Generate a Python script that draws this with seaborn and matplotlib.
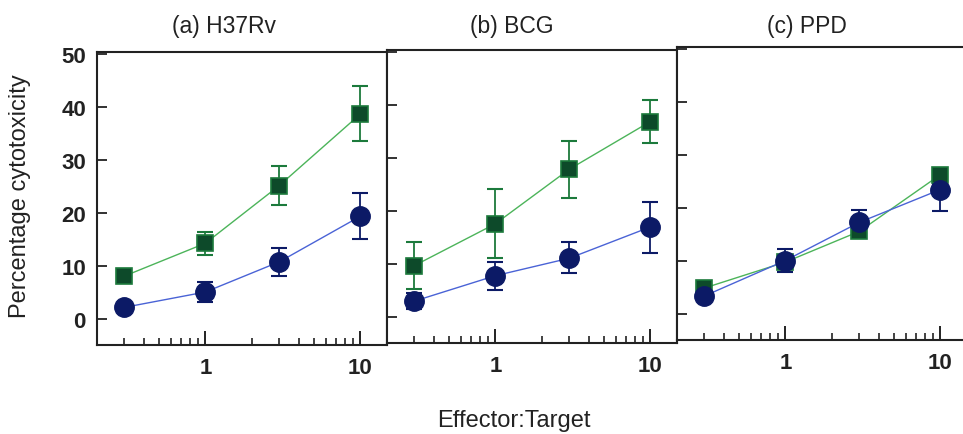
import matplotlib
matplotlib.use("Agg")
import matplotlib.pyplot as plt
from matplotlib.ticker import FixedLocator, NullFormatter, FixedFormatter
import numpy as np
import pandas as pd
import seaborn as sns

# Effector:Target ratios
ratios = [0.3, 1, 3, 10]

panel_titles = ["(a) H37Rv", "(b) BCG", "(c) PPD"]

# Square series (mean, lower/upper error-bar ends)
sq_mean = [[8.0, 14.2, 25.1, 38.6],
           [9.6, 17.5, 27.8, 36.8],
           [4.8, 9.7, 15.5, 26.2]]
sq_lo = [[7.9, 11.9, 21.5, 33.5],
         [5.2, 11.0, 22.4, 32.8],
         [4.0, 8.9, 14.6, 25.4]]
sq_hi = [[8.1, 16.4, 28.7, 43.9],
         [14.0, 24.0, 33.2, 40.8],
         [5.6, 10.5, 16.4, 27.0]]

# Circle series
ci_mean = [[2.1, 5.0, 10.7, 19.3],
           [2.9, 7.7, 11.0, 16.9],
           [3.3, 10.0, 17.2, 23.4]]
ci_lo = [[1.9, 3.2, 8.0, 15.0],
         [1.4, 5.0, 8.2, 12.0],
         [2.8, 7.9, 15.8, 19.3]]
ci_hi = [[2.3, 6.9, 13.4, 23.6],
         [4.4, 10.3, 14.0, 21.6],
         [3.8, 12.2, 19.6, 24.4]]

x_major = [1, 10]
x_major_labels = ["1", "10"]
x_minor = [0.3, 0.4, 0.5, 0.6, 0.7, 0.8, 0.9, 2, 3, 4, 5, 6, 7, 8, 9]
y_ticks = [0, 10, 20, 30, 40, 50]

sns.set_theme(style="ticks")
plt.rcParams["font.family"] = ["Liberation Sans", "DejaVu Sans"]

SQ_FACE = "#0d4a2a"
SQ_EDGE = "#1c7a3c"
SQ_LINE = "#4cb45a"
CI_FACE = "#0c1a66"
CI_LINE = "#4a63d6"
INK = "#222222"

W, H = 963, 435
fig = plt.figure(figsize=(W / 100, H / 100), dpi=100)

# panel frames in pixels: (left, top, bottom)
frames = [(97, 53, 346), (387, 51, 344), (677, 48, 341)]
pw = 290
title_x = [224, 512, 807]

for i, (left, top, bottom) in enumerate(frames):
    ax = fig.add_axes([left / W, 1 - bottom / H, pw / W, (bottom - top) / H])
    ax.set_facecolor("white")

    df_sq = pd.DataFrame({"ratio": ratios, "value": sq_mean[i]})
    df_ci = pd.DataFrame({"ratio": ratios, "value": ci_mean[i]})

    # error bars sit underneath the markers
    sq_err = [np.array(sq_mean[i]) - np.array(sq_lo[i]),
              np.array(sq_hi[i]) - np.array(sq_mean[i])]
    ci_err = [np.array(ci_mean[i]) - np.array(ci_lo[i]),
              np.array(ci_hi[i]) - np.array(ci_mean[i])]
    ax.errorbar(ratios, sq_mean[i], yerr=sq_err, fmt="none", ecolor=SQ_EDGE,
                elinewidth=1.3, capsize=6, capthick=1.5, zorder=2)
    ax.errorbar(ratios, ci_mean[i], yerr=ci_err, fmt="none", ecolor=CI_FACE,
                elinewidth=1.3, capsize=6, capthick=1.5, zorder=2)

    sns.lineplot(data=df_sq, x="ratio", y="value", ax=ax, color=SQ_LINE,
                 linewidth=1.0, marker="s", markersize=11.5,
                 markerfacecolor=SQ_FACE, markeredgecolor=SQ_EDGE,
                 markeredgewidth=1.2, zorder=3)
    sns.lineplot(data=df_ci, x="ratio", y="value", ax=ax, color=CI_LINE,
                 linewidth=1.0, marker="o", markersize=14,
                 markerfacecolor=CI_FACE, markeredgecolor=CI_FACE,
                 markeredgewidth=1.0, zorder=4)

    ax.set_xscale("log")
    ax.set_xlim(0.2, 14.85)
    ax.set_ylim(-5, 50.3)
    ax.xaxis.set_major_locator(FixedLocator(x_major))
    ax.xaxis.set_major_formatter(FixedFormatter(x_major_labels))
    ax.xaxis.set_minor_locator(FixedLocator(x_minor))
    ax.xaxis.set_minor_formatter(NullFormatter())
    ax.yaxis.set_major_locator(FixedLocator(y_ticks))
    ax.set_xlabel("")
    ax.set_ylabel("")

    for s in ax.spines.values():
        s.set_color(INK)
        s.set_linewidth(1.5)

    ax.tick_params(axis="x", which="major", direction="in", length=10,
                   width=1.4, color=INK, pad=9, labelsize=16,
                   labelcolor=INK)
    ax.tick_params(axis="x", which="minor", direction="in", length=5,
                   width=1.2, color=INK)
    ax.tick_params(axis="y", which="major", direction="in", length=7,
                   width=1.3, color=INK, pad=8, labelsize=16,
                   labelcolor=INK, labelleft=(i == 0))
    for lab in ax.get_xticklabels() + ax.get_yticklabels():
        lab.set_fontweight("bold")

    fig.text(title_x[i] / W, 1 - 27 / H, panel_titles[i], ha="center",
             va="center", fontsize=16.5, color=INK)

fig.text(20 / W, 1 - 196 / H, "Percentage cytotoxicity", rotation=90,
         ha="center", va="center", fontsize=17, color=INK)
fig.text(514 / W, 1 - 421 / H, "Effector:Target", ha="center", va="center",
         fontsize=17, color=INK)

fig.savefig("out.png", dpi=100, facecolor="white")
